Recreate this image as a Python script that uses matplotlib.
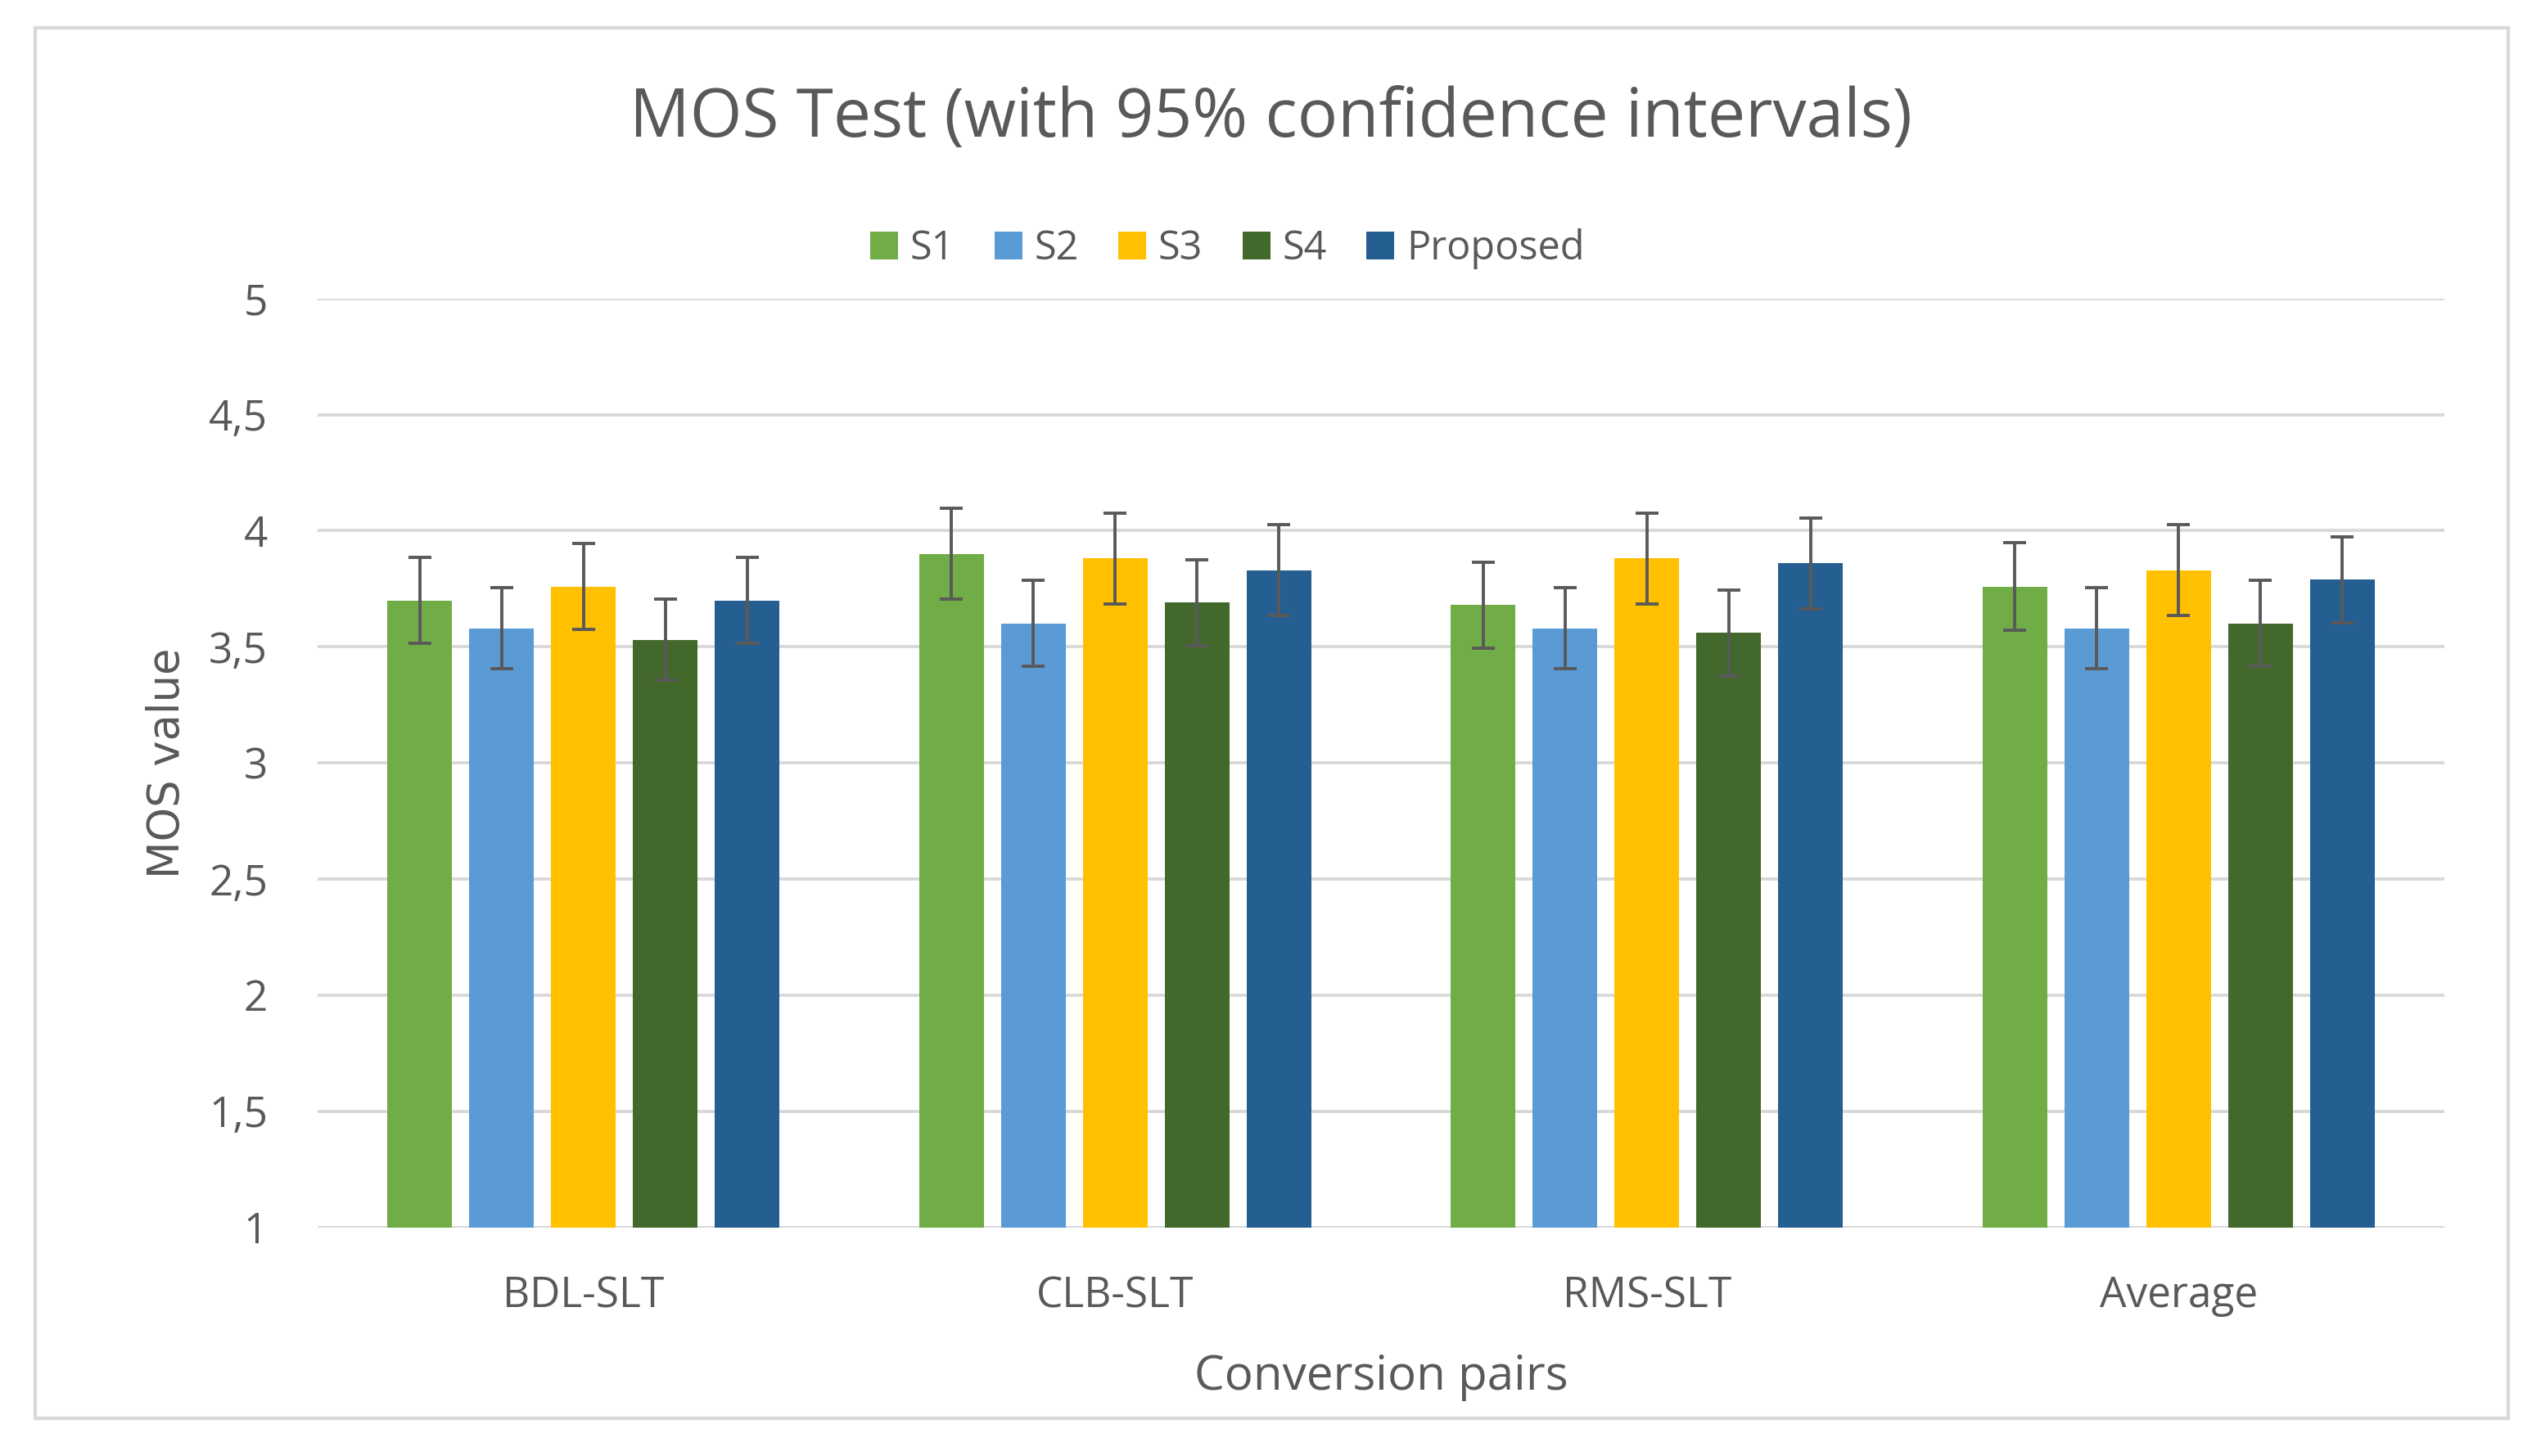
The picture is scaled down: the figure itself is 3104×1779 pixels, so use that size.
import numpy as np
import matplotlib
matplotlib.use('Agg')
import matplotlib.pyplot as plt
from matplotlib.patches import Rectangle
from matplotlib.ticker import FuncFormatter

plt.rcParams['font.family'] = ['Open Sans', 'DejaVu Sans']

# Data
pairs = ['BDL-SLT', 'CLB-SLT', 'RMS-SLT', 'Average']
systems = ['S1', 'S2', 'S3', 'S4', 'Proposed']
colors = ['#70AD47', '#5B9BD5', '#FFC000', '#43682B', '#255E91']

s1 = [3.70, 3.90, 3.68, 3.76]
s2 = [3.58, 3.60, 3.58, 3.58]
s3 = [3.76, 3.88, 3.88, 3.83]
s4 = [3.53, 3.69, 3.56, 3.60]
proposed = [3.70, 3.83, 3.86, 3.79]

s1_ci = [0.185, 0.195, 0.185, 0.19]
s2_ci = [0.175, 0.185, 0.175, 0.175]
s3_ci = [0.185, 0.195, 0.195, 0.195]
s4_ci = [0.175, 0.185, 0.185, 0.185]
proposed_ci = [0.185, 0.195, 0.195, 0.185]

values = [s1, s2, s3, s4, proposed]
cis = [s1_ci, s2_ci, s3_ci, s4_ci, proposed_ci]

text_color = '#595959'
grid_color = '#D9D9D9'

fig = plt.figure(figsize=(15.52, 8.895), dpi=200)
ax = fig.add_axes([0.125, 0.157, 0.837, 0.638])

x = np.arange(len(pairs))
width = 0.122
pitch = 0.154
for i, (name, vals, ci, col) in enumerate(zip(systems, values, cis, colors)):
    pos = x + (i - 2) * pitch
    ax.bar(pos, np.array(vals) - 1, width, bottom=1, color=col, label=name, zorder=2)
    ax.errorbar(pos, vals, yerr=ci, fmt='none', ecolor=text_color,
                elinewidth=1.4, capsize=5, capthick=1.4, zorder=3)

ax.set_xlim(-0.5, len(pairs) - 0.5)
ax.set_ylim(1, 5)
ax.set_yticks(np.arange(1, 5.01, 0.5))
ax.yaxis.set_major_formatter(FuncFormatter(lambda v, p: ('%g' % v).replace('.', ',')))
ax.set_xticks(x)
ax.set_xticklabels(pairs)
ax.grid(axis='y', color=grid_color, linewidth=1.4, zorder=0)
for s in ax.spines.values():
    s.set_visible(False)
ax.tick_params(length=0, labelsize=18.5, colors=text_color)
ax.tick_params(axis='x', pad=21)
ax.tick_params(axis='y', pad=22)

ax.set_xlabel('Conversion pairs', fontsize=21, color=text_color, labelpad=16)
ax.set_ylabel('MOS value', fontsize=19, color=text_color, labelpad=9,
              family='DejaVu Sans')

fig.text(0.5, 0.918, 'MOS Test (with 95% confidence intervals)', ha='center', va='center',
         fontsize=29.5, color=text_color)

fig.legend(loc='center', bbox_to_anchor=(0.483, 0.829), ncol=5, frameon=False,
           fontsize=17.5, labelcolor=text_color, handlelength=0.7, handleheight=0.7,
           handletextpad=0.3, columnspacing=1.0)

fig.patches.append(Rectangle((0.014, 0.026), 0.973, 0.955, transform=fig.transFigure,
                             fill=False, edgecolor=grid_color, linewidth=1.5))

fig.savefig('out.png', dpi=200, facecolor='white')
